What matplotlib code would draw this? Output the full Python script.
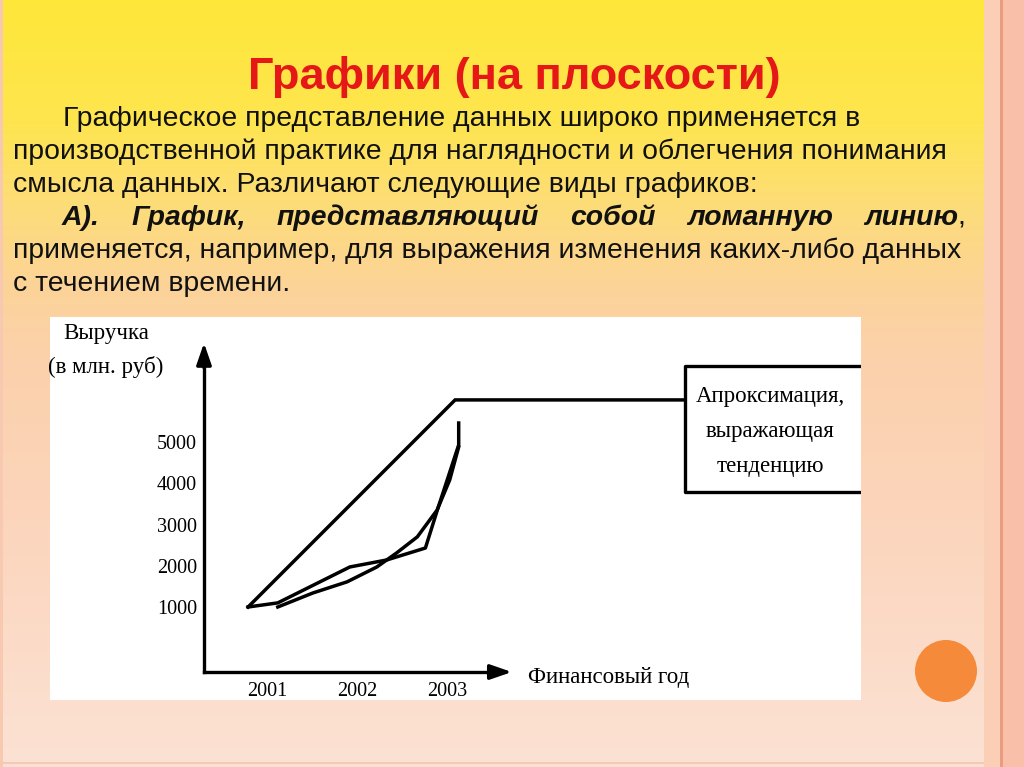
import matplotlib
matplotlib.use('Agg')
import matplotlib.pyplot as plt
from matplotlib import font_manager
from matplotlib.patches import Ellipse, Rectangle
import numpy as np

# values (financial year, revenue in mln rub)
years_actual = [2000.79, 2001.12, 2001.92, 2002.33, 2002.76, 2002.90, 2003.13, 2003.13]
revenue_actual = [1000, 1100, 1970, 2140, 2430, 3400, 4930, 5460]

years_smooth = [2001.12, 2001.51, 2001.89, 2002.22, 2002.44, 2002.67, 2002.89, 2003.03, 2003.13]
revenue_smooth = [1000, 1340, 1610, 1970, 2310, 2700, 3350, 4080, 4880]

years_trend = [2000.79, 2003.09, 2005.64]
revenue_trend = [1000, 6020, 6020]

year_ticks = [2001, 2002, 2003]
revenue_ticks = [1000, 2000, 3000, 4000, 5000]

title = 'Графики (на плоскости)'
body_lines = [
    'Графическое представление данных широко применяется в',
    'производственной практике для наглядности и облегчения понимания',
    'смысла данных. Различают следующие виды графиков:',
    None,
    'применяется, например, для выражения изменения каких-либо данных',
    'с течением времени.',
]
bold_words = ['А).', 'График,', 'представляющий', 'собой', 'ломанную', 'линию']
box_lines = ['Апроксимация,', 'выражающая', 'тенденцию']

W, H = 1024, 767
fig = plt.figure(figsize=(W / 100, H / 100), dpi=100)
renderer = fig.canvas.get_renderer()


def fx(px):
    return px / W


def fy(py):
    return 1 - py / H


def fit(txt, target, size0, **kw):
    t = fig.text(0, 0, txt, fontsize=size0, **kw)
    w = t.get_window_extent(renderer).width
    t.remove()
    return size0 * target / w


serif = ['Liberation Serif', 'DejaVu Serif']
sans = ['Liberation Sans', 'DejaVu Sans']
names = {f.name for f in font_manager.fontManager.ttflist}
title_family = ['Liberation Sans Narrow'] + sans if 'Liberation Sans Narrow' in names else sans

# slide background
bg = fig.add_axes([0, 0, 1, 1])
bg.set_xlim(0, W)
bg.set_ylim(H, 0)
bg.axis('off')
stop_y = [0, 120, 200, 280, 350, 500, 767]
stop_c = np.array([(255, 231, 58), (254, 229, 78), (253, 221, 118), (252, 212, 150),
                   (251, 209, 170), (251, 212, 186), (252, 226, 212)]) / 255
rows = np.arange(H)
grad = np.stack([np.interp(rows, stop_y, stop_c[:, i]) for i in range(3)], axis=1)
bg.imshow(np.repeat(grad[:, None, :], W, axis=1), extent=(0, W, H, 0), aspect='auto')
bg.add_patch(Rectangle((0, 0), 3, H, color='#f7c9b0', lw=0))
bg.add_patch(Rectangle((984, 0), 16, H, color='#fbcfb6', lw=0))
bg.add_patch(Rectangle((1000, 0), 3, H, color='#e89c80', lw=0))
bg.add_patch(Rectangle((1003, 0), 21, H, color='#f9bfa8', lw=0))
bg.add_patch(Rectangle((0, 762), 984, 2, color='#f3c9b4', lw=0))
bg.add_patch(Ellipse((946, 671), 62, 62, color='#f58a3a', lw=0))

# title
title_size = fit(title, 532, 30, fontweight='bold', family=title_family)
fig.text(fx(514), fy(89), title, fontsize=title_size, fontweight='bold', color='#e61717',
         family=title_family, ha='center', va='baseline')

# body text, size fitted to the width of the second line
body_size = fit(body_lines[1], 935, 18, family=sans)

baselines = [126, 159, 192, 225, 258, 291]
starts = [63, 13, 13, 62, 13, 13]
for line, base, x0 in zip(body_lines, baselines, starts):
    if line is None:
        continue
    fig.text(fx(x0), fy(base), line, fontsize=body_size, family=sans, color='#111111', va='baseline')

# justified bold italic line
widths = []
for w in bold_words:
    t = fig.text(0, 0, w, fontsize=body_size, family=sans, fontweight='bold', fontstyle='italic')
    widths.append(t.get_window_extent(renderer).width)
    t.remove()
x_start, x_end = 62, 958
gap = (x_end - x_start - sum(widths)) / (len(bold_words) - 1)
x = x_start
for w, wd in zip(bold_words, widths):
    fig.text(fx(x), fy(baselines[3]), w, fontsize=body_size, family=sans, fontweight='bold',
             fontstyle='italic', color='#111111', va='baseline')
    x += wd + gap
fig.text(fx(x - gap - 1), fy(baselines[3]), ',', fontsize=body_size, family=sans,
         color='#111111', va='baseline')

# chart picture
ax = fig.add_axes([fx(50), fy(700), fx(861) - fx(50), (700 - 317) / H])
ax.set_facecolor('white')
x_lo, x_hi = 1998.589, 2007.6
y_lo, y_hi = -1254.5, 8030.3
ax.set_xlim(x_lo, x_hi)
ax.set_ylim(y_lo, y_hi)
x_axis, y_axis = 2000.30, -576
x_tip, y_tip = 2003.72, 7400

for s in ['top', 'right']:
    ax.spines[s].set_visible(False)
ax.spines['left'].set_position(('data', x_axis))
ax.spines['bottom'].set_position(('data', y_axis))
ax.spines['left'].set_bounds(y_axis, y_tip - 300)
ax.spines['bottom'].set_bounds(x_axis, x_tip - 0.1)
for s in ['left', 'bottom']:
    ax.spines[s].set_linewidth(2.4)

ax.annotate('', xy=(x_axis, y_tip), xytext=(x_axis, y_tip - 600),
            arrowprops=dict(arrowstyle='-|>,head_length=1.3,head_width=0.45', color='black', lw=2.4,
                            shrinkA=0, shrinkB=0))
ax.annotate('', xy=(x_tip, y_axis), xytext=(x_tip - 0.25, y_axis),
            arrowprops=dict(arrowstyle='-|>,head_length=1.3,head_width=0.45', color='black', lw=2.4,
                            shrinkA=0, shrinkB=0))

ax.set_xticks(year_ticks)
ax.set_yticks(revenue_ticks)
ax.set_xticklabels([str(v) for v in year_ticks], family=serif, fontsize=14.5)
ax.set_yticklabels([str(v) for v in revenue_ticks], family=serif, fontsize=14.5)
ax.tick_params(axis='x', length=0, pad=7)
ax.tick_params(axis='y', length=0, pad=5)

ax.plot(years_trend, revenue_trend, color='black', lw=2.5, solid_joinstyle='miter')
ax.plot(years_actual, revenue_actual, color='black', lw=2.5)
ax.plot(years_smooth, revenue_smooth, color='black', lw=2.5)

# text box of the trend line
box_x, box_top, box_bottom = 2005.64, 6842, 3788
ax.plot([x_hi + 1, box_x, box_x, x_hi + 1], [box_top, box_top, box_bottom, box_bottom],
        color='black', lw=2.4)

fig.text(fx(106), fy(339), 'Выручка', family=serif, fontsize=16.5, ha='center', va='baseline')
fig.text(fx(106), fy(373), '(в млн. руб)', family=serif, fontsize=16.5, ha='center', va='baseline')
fig.text(fx(528), fy(683), 'Финансовый год', family=serif, fontsize=16.5, va='baseline')
for line, base in zip(box_lines, [402, 437, 472]):
    fig.text(fx(770), fy(base), line, family=serif, fontsize=16.5, ha='center', va='baseline')

fig.savefig('out.png', dpi=100)
